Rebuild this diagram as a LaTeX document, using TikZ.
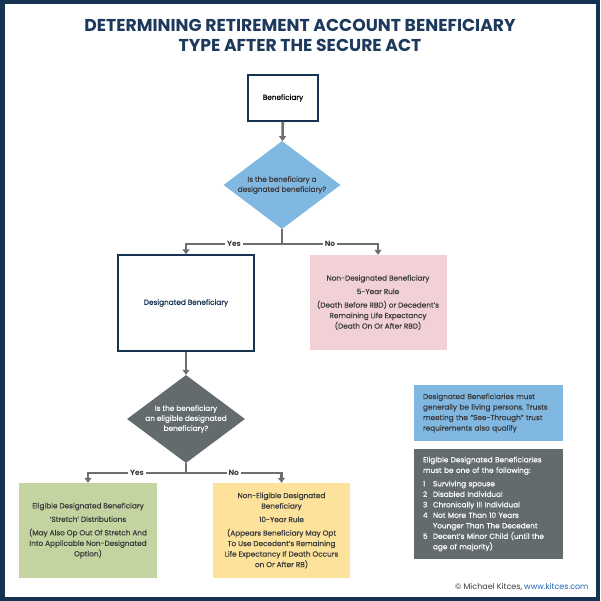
\documentclass[tikz,border=0pt]{standalone}
\usepackage{fontspec}
\setmainfont{Poppins}
\newfontfamily\boxfont{Poppins}[FakeBold=0.5]
\usepackage{tikz}
\usetikzlibrary{shapes.geometric, arrows.meta, positioning}
\usepackage{xcolor}
\definecolor{navy}{HTML}{163352}
\definecolor{titleblue}{HTML}{1D3A5C}
\definecolor{skyblue}{HTML}{80B8E1}
\definecolor{slate}{HTML}{646B6F}
\definecolor{blush}{HTML}{F2D1D6}
\definecolor{sage}{HTML}{C3D4A0}
\definecolor{butter}{HTML}{FCE29B}
\definecolor{wire}{HTML}{6D6E71}
\definecolor{ink}{HTML}{3A3A3C}
\definecolor{weblink}{HTML}{1F5FB0}
\newcommand{\numitem}[2]{\makebox[10pt][l]{#1}#2}
\frenchspacing

\begin{document}
\begin{tikzpicture}[x=1pt, y=-1pt,
  box/.style={rectangle, inner sep=0pt, align=center, text=ink, font=\boxfont\fontsize{7.3}{10.5}\selectfont},
  outlined/.style={box, draw=navy, line width=1.4pt, fill=white},
  question/.style={diamond, shape aspect=1.33, inner sep=-4pt, align=center, font=\boxfont\fontsize{7.3}{10}\selectfont},
  arrow/.style={-{Triangle[width=7pt, length=5pt]}, draw=wire, line width=2.6pt},
  branch/.style={fill=white, inner sep=2pt, text=ink, font=\fontsize{7.5}{8}\selectfont\bfseries},
  note/.style={rectangle, inner sep=0pt, align=left, font=\boxfont\fontsize{7.3}{10.5}\selectfont}
]
  \useasboundingbox (0,0) rectangle (600,601);
  \draw[navy, line width=4.5pt] (2.25,2.25) rectangle (597.75,598.75);

  % Title
  \node[align=center, text=titleblue, font=\fontsize{17.2}{20}\selectfont\bfseries] (title) at (300,35)
    {DETERMINING RETIREMENT ACCOUNT BENEFICIARY\\TYPE AFTER THE SECURE ACT};

  % First decision
  \node[outlined, minimum width=70, minimum height=46, text=black] (benef) at (283,98) {Beneficiary};
  \node[question, fill=skyblue, text=ink, minimum width=117, minimum height=88] (q1) at (282,185)
    {Is the beneficiary a\\designated beneficiary?};

  \node[outlined, minimum width=136, minimum height=96, text=navy] (desig) at (186,303) {Designated Beneficiary};
  \node[box, fill=blush, minimum width=137, minimum height=95] (nondesig) at (378,302.5)
    {Non-Designated Beneficiary\\[3pt] 5-Year Rule\\[3pt] (Death Before RBD) or Decedent’s\\Remaining Life Expectancy\\(Death On Or After RBD)};

  % Second decision
  \node[question, fill=slate, text=white, minimum width=118, minimum height=88] (q2) at (186,419)
    {Is the beneficiary\\an eligible designated\\beneficiary?};

  \node[box, fill=sage, minimum width=138, minimum height=95] (eligible) at (88,530.5)
    {Eligible Designated Beneficiary\\[3pt] ‘Stretch’ Distributions\\[3pt] (May Also Op Out Of Stretch And\\Into Applicable Non-Designated\\Option)};
  \node[box, fill=butter, minimum width=137, minimum height=95] (noneligible) at (281.5,530.5)
    {Non-Eligible Designated\\Beneficiary\\[3pt] 10-Year Rule\\[3pt] (Appears Beneficiary May Opt\\To Use Decedent’s Remaining\\Life Expectancy If Death Occurs\\on Or After RB)};

  % Connectors
  \coordinate (split1) at (282,244);
  \coordinate (split2) at (186,473);
  \draw[arrow] (benef) -- (q1);
  \draw[arrow] (q1.south) -- (split1) -| node[branch, pos=0.25] {Yes} (desig.north);
  \draw[arrow] (split1) -| node[branch, pos=0.25] {No} (nondesig.north);
  \draw[arrow] (q2.north |- desig.south) -- (q2.north);
  \draw[arrow] (q2.south) -- (split2) -| node[branch, pos=0.25] {Yes} (eligible.north);
  \draw[arrow] (split2) -| node[branch, pos=0.25] {No} (noneligible.north);

  % Side notes
  \node[note, fill=skyblue, text=ink, minimum width=149, minimum height=56, text width=131] (livenote) at (488.5,413)
    {Designated Beneficiaries must\\generally be living persons. Trusts\\meeting the “See-Through” trust\\requirements also qualify};
  \node[note, fill=slate, text=white, minimum width=149, minimum height=110, text width=131] (edblist) at (488.5,504)
    {Eligible Designated Beneficiaries\\must be one of the following:\\[3pt]
     \numitem{1}{Surviving spouse}\\
     \numitem{2}{Disabled Individual}\\
     \numitem{3}{Chronically Ill Individual}\\
     \numitem{4}{Not More Than 10 Years}\\
     \numitem{}{Younger Than The Decedent}\\
     \numitem{5}{Decent’s Minor Child (until the}\\
     \numitem{}{age of majority)}};

  % Credit
  \node[anchor=east, text=ink, font=\fontsize{8}{10}\selectfont] (credit) at (592,587)
    {© Michael Kitces, \textcolor{weblink}{www.kitces.com}};
\end{tikzpicture}
\end{document}
